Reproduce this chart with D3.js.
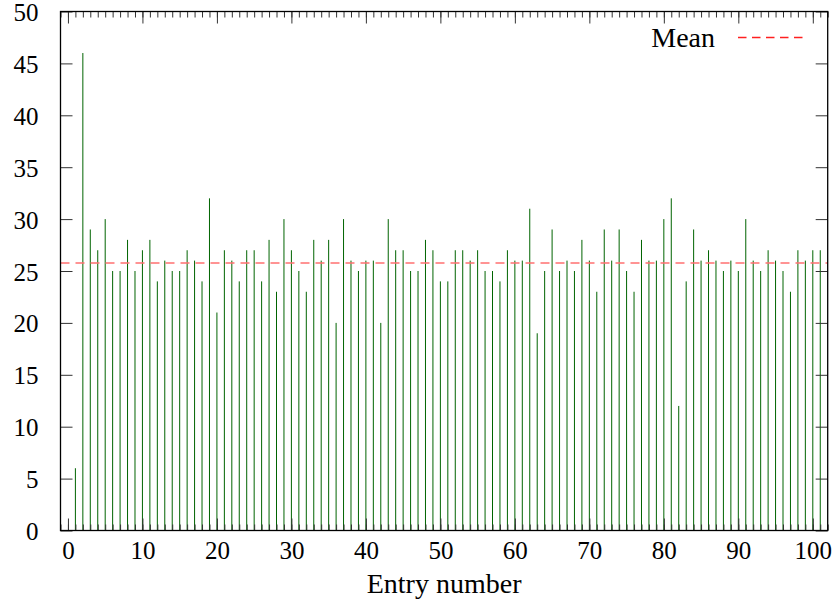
<!DOCTYPE html>
<html>
<head>
<meta charset="utf-8">
<script src="https://cdn.jsdelivr.net/npm/d3@7"></script>
<style>
  body { margin: 0; background: white; }
  text { font-family: "Liberation Serif", "DejaVu Serif", serif; font-variant-numeric: oldstyle-nums; fill: black; }
</style>
</head>
<body>
<div id="chart"></div>
<script>
//value of every entry, index = entry number (entry 0 is empty)
var counts = [0, 6, 46, 29, 27, 30, 25, 25, 28, 25, 27,
              28, 24, 26, 25, 25, 27, 26, 24, 32, 21,
              27, 26, 24, 27, 27, 24, 28, 23, 30, 27,
              25, 23, 28, 26, 28, 20, 30, 26, 25, 26,
              26, 20, 30, 27, 27, 25, 25, 28, 27, 24,
              24, 27, 27, 26, 27, 25, 25, 24, 27, 26,
              26, 31, 19, 25, 29, 25, 26, 25, 28, 26,
              23, 29, 26, 29, 25, 23, 28, 26, 26, 30,
              32, 12, 24, 29, 26, 27, 26, 25, 26, 25,
              30, 26, 25, 27, 26, 25, 23, 27, 26, 27, 27];
var xTicks = [0, 10, 20, 30, 40, 50, 60, 70, 80, 90, 100];
var yTicks = [0, 5, 10, 15, 20, 25, 30, 35, 40, 45, 50];
var xLabel = "Entry number";
var legendLabel = "Mean";

var width = 835, height = 603;
var plotLeft = 60.5, plotRight = 827.7, plotTop = 11.5, plotBottom = 530.5;

var svg = d3.select("#chart").append("svg")
    .attr("width", width).attr("height", height);

var x = d3.scaleLinear().domain([-1, 102]).range([plotLeft, plotRight]);
var y = d3.scaleLinear().domain([0, 50]).range([plotBottom, plotTop]);

var entries = counts.map(function(v, i) { return {entry: i, value: v}; });
var mean = d3.mean(counts);

//the impulses
svg.append("g").selectAll("line")
    .data(entries.filter(function(d) { return d.value > 0; }))
    .enter()
    .append("line")
    .attr("x1", function(d) { return x(d.entry); })
    .attr("x2", function(d) { return x(d.entry); })
    .attr("y1", y(0))
    .attr("y2", function(d) { return y(d.value); })
    .style("stroke", "#006400")
    .style("stroke-width", 1);

//mean line across the whole plot
svg.append("line")
    .attr("x1", plotLeft).attr("x2", plotRight)
    .attr("y1", y(mean)).attr("y2", y(mean))
    .style("stroke", "#ff7070")
    .style("stroke-width", 1.6)
    .style("stroke-dasharray", "9,6");

//ticks, all pointing inward, no labels
var minorX = d3.range(-1, 103);
function ticksOnly(axis, values, size) {
    return axis.tickValues(values).tickSize(size).tickFormat("");
}
svg.append("g").attr("transform", "translate(0," + plotTop + ")")
    .call(ticksOnly(d3.axisBottom(x), minorX, 6));
svg.append("g").attr("transform", "translate(0," + plotTop + ")")
    .call(ticksOnly(d3.axisBottom(x), xTicks, 12));
svg.append("g").attr("transform", "translate(0," + plotBottom + ")")
    .call(ticksOnly(d3.axisTop(x), minorX, 6));
svg.append("g").attr("transform", "translate(0," + plotBottom + ")")
    .call(ticksOnly(d3.axisTop(x), xTicks, 12));
svg.append("g").attr("transform", "translate(" + plotLeft + ",0)")
    .call(ticksOnly(d3.axisRight(y), yTicks, 12));
svg.append("g").attr("transform", "translate(" + plotRight + ",0)")
    .call(ticksOnly(d3.axisLeft(y), yTicks, 12));
svg.selectAll(".domain").remove();
svg.selectAll(".tick line").style("stroke", "#333");

//tick labels
var xAxis = svg.append("g").attr("transform", "translate(0," + plotBottom + ")")
    .call(d3.axisBottom(x).tickValues(xTicks).tickSize(0).tickPadding(11));
var yAxis = svg.append("g").attr("transform", "translate(" + plotLeft + ",0)")
    .call(d3.axisLeft(y).tickValues(yTicks).tickSize(0).tickPadding(22));
[xAxis, yAxis].forEach(function(a) {
    a.select(".domain").remove();
    a.selectAll("text").attr("font-size", "25px").attr("font-family", null).style("fill", "black");
});
//keep the top label inside the picture
yAxis.selectAll("text").attr("dy", "0.36em");

//frame
svg.append("rect")
    .attr("x", plotLeft).attr("y", plotTop)
    .attr("width", plotRight - plotLeft).attr("height", plotBottom - plotTop)
    .style("fill", "none").style("stroke", "black").style("stroke-width", 1.3);

//axis title
svg.append("text")
    .attr("x", (plotLeft + plotRight) / 2).attr("y", 593)
    .attr("text-anchor", "middle")
    .attr("font-size", "28px")
    .text(xLabel);

//legend
svg.append("text")
    .attr("x", 715).attr("y", 46.5)
    .attr("text-anchor", "end")
    .attr("font-size", "28px")
    .text(legendLabel);
svg.append("line")
    .attr("x1", 738).attr("x2", 804)
    .attr("y1", 37.5).attr("y2", 37.5)
    .style("stroke", "#ff2020")
    .style("stroke-width", 1.3)
    .style("stroke-dasharray", "8.5,5.5");
</script>
</body>
</html>
